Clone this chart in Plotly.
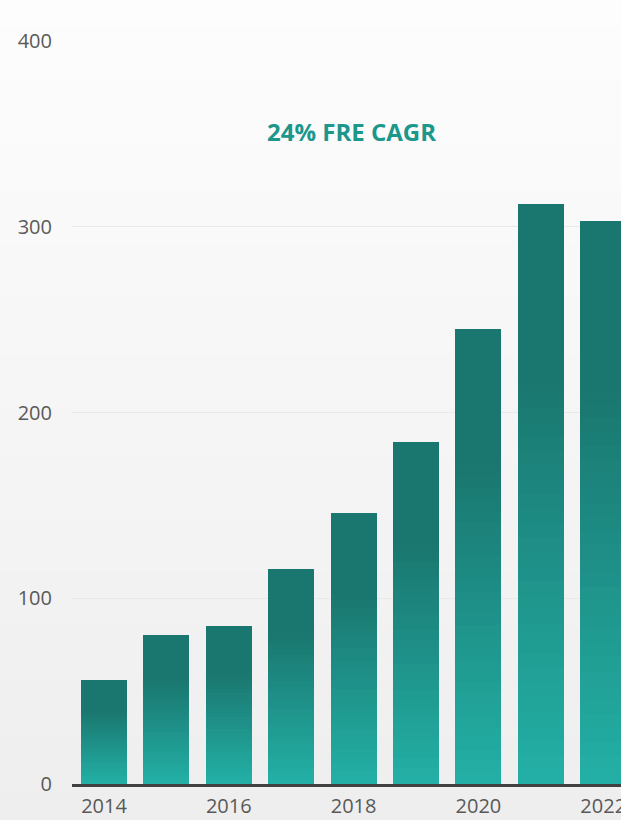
import base64, struct, zlib
import plotly.graph_objects as go

# ---- data ----
years = [2014, 2015, 2016, 2017, 2018, 2019, 2020, 2021, 2022]
values = [56, 80, 85, 116, 146, 184, 245, 312, 303]
x_ticks = [2014, 2016, 2018, 2020, 2022]
y_ticks = [0, 100, 200, 300, 400]
title_text = "24% FRE CAGR"

W, H = 621, 820
ML, MR, MT, MB = 72, 0, 41, 36


def hex2rgb(h):
    h = h.lstrip('#')
    return tuple(int(h[i:i + 2], 16) for i in (0, 2, 4))


def lerp(c1, c2, t):
    return tuple(round(a + (b - a) * t) for a, b in zip(c1, c2))


# background vertical gradient as a tiny PNG
def gradient_png(top, bottom, height):
    rows = b''
    for i in range(height):
        c = lerp(top, bottom, i / (height - 1))
        rows += b'\x00' + bytes(c)
    def chunk(tag, data):
        return struct.pack('>I', len(data)) + tag + data + struct.pack('>I', zlib.crc32(tag + data) & 0xffffffff)
    png = b'\x89PNG\r\n\x1a\n'
    png += chunk(b'IHDR', struct.pack('>IIBBBBB', 1, height, 8, 2, 0, 0, 0))
    png += chunk(b'IDAT', zlib.compress(rows))
    png += chunk(b'IEND', b'')
    return 'data:image/png;base64,' + base64.b64encode(png).decode()


bg_src = gradient_png(hex2rgb('#fdfdfd'), hex2rgb('#eeeeee'), 200)

# bar gradient (bottom light -> top dark), built from stacked bar segments
light = hex2rgb('#23b0a6')
dark = hex2rgb('#1a776f')
N = 40
fig = go.Figure()
for i in range(N):
    mid = (i + 0.5) / N
    t = min(mid / 0.70, 1.0)
    c = lerp(light, dark, t)
    fig.add_trace(go.Bar(
        x=years,
        y=[v / N for v in values],
        marker=dict(color='rgb(%d,%d,%d)' % c, line=dict(width=0)),
        showlegend=False,
        hoverinfo='skip',
    ))

pw = W - ML - MR
ph = H - MT - MB
fig.add_layout_image(dict(
    source=bg_src, xref='paper', yref='paper',
    x=-ML / pw, y=1 + MT / ph, sizex=W / pw, sizey=H / ph,
    xanchor='left', yanchor='top', sizing='stretch', layer='below',
))

fig.add_annotation(
    x=(351 - ML) / pw, y=(H - MB - 131) / ph, xref='paper', yref='paper',
    xanchor='center', yanchor='middle',
    text='<b>%s</b>' % title_text, showarrow=False,
    font=dict(family='Open Sans', size=24, color='#1c978c'),
)

fig.update_layout(
    width=W, height=H,
    margin=dict(l=ML, r=MR, t=MT, b=MB, autoexpand=False),
    barmode='stack', bargap=0.263,
    paper_bgcolor='#f6f6f6', plot_bgcolor='rgba(0,0,0,0)',
    font=dict(family='Open Sans', size=20, color='#595959'),
    xaxis=dict(
        range=[2013.487, 2022.285], tickvals=x_ticks,
        showgrid=False, zeroline=False, automargin=False,
        showline=True, linecolor='#404040', linewidth=2.5,
        ticks='', ticklabeloverflow='allow',
        ticklabelstandoff=2,
        tickfont=dict(size=20, color='#595959'),
    ),
    yaxis=dict(
        range=[0, 400], tickvals=y_ticks, automargin=False,
        showgrid=True, gridcolor='#e9e9e9', gridwidth=1,
        zeroline=False, showline=False, ticks='',
        ticklabelstandoff=19,
        tickfont=dict(size=20, color='#595959'),
    ),
)

fig.write_html('out.html', config={'displayModeBar': False},
               post_script="document.body.style.margin='0';")
